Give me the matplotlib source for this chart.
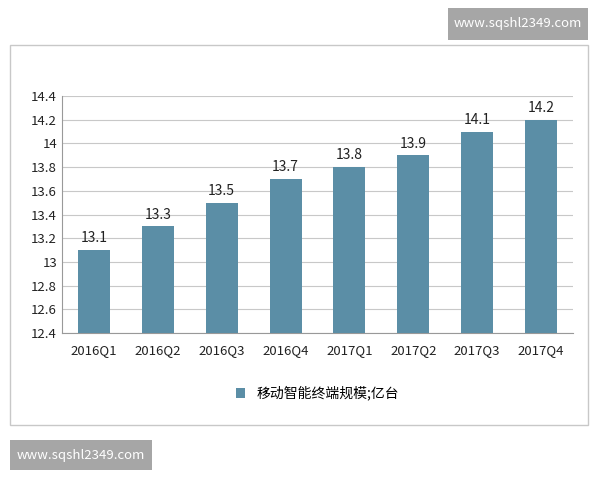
import matplotlib.pyplot as plt
from matplotlib.patches import Rectangle

plt.rcParams['font.family'] = ['Noto Sans CJK SC', 'DejaVu Sans']

quarters = ['2016Q1', '2016Q2', '2016Q3', '2016Q4', '2017Q1', '2017Q2', '2017Q3', '2017Q4']
values = [13.1, 13.3, 13.5, 13.7, 13.8, 13.9, 14.1, 14.2]
yticks = [12.4, 12.6, 12.8, 13, 13.2, 13.4, 13.6, 13.8, 14, 14.2, 14.4]
ytick_labels = ['12.4', '12.6', '12.8', '13', '13.2', '13.4', '13.6', '13.8', '14', '14.2', '14.4']

fig = plt.figure(figsize=(6, 4.8), dpi=100)
fig.patches.append(Rectangle((10/600, 1-425/480), 578/600, 380/480, transform=fig.transFigure,
                             fill=False, edgecolor='#c8c8c8', linewidth=1))

ax = fig.add_axes([62/600, 1-333/480, 511/600, 237/480])
bars = ax.bar(range(len(quarters)), values, width=0.5, color='#5b8ea6', label='移动智能终端规模;亿台', zorder=3)
for i, v in enumerate(values):
    ax.text(i, v + 0.04, f'{v}', ha='center', va='bottom', fontsize=10, color='#222222')
ax.set_ylim(12.4, 14.4)
ax.set_xlim(-0.5, len(quarters) - 0.5)
ax.set_yticks(yticks)
ax.set_yticklabels(ytick_labels)
ax.set_xticks(range(len(quarters)))
ax.set_xticklabels(quarters)
ax.tick_params(length=0, labelsize=9.5, colors='#222222')
ax.tick_params(axis='x', pad=8)
ax.grid(axis='y', color='#c8c8c8', linewidth=0.8, zorder=0)
for s in ['top', 'right']:
    ax.spines[s].set_visible(False)
ax.spines['left'].set_color('#999999')
ax.spines['bottom'].set_color('#999999')
ax.legend(loc='upper center', bbox_to_anchor=(0.5, -0.17), frameon=False, fontsize=10,
          handlelength=0.7, handleheight=0.7)

for (x0, y0, w, h) in [(448, 8, 140, 32), (10, 440, 142, 30)]:
    fig.patches.append(Rectangle((x0/600, 1-(y0+h)/480), w/600, h/480, transform=fig.transFigure,
                                 facecolor='#a6a6a6', edgecolor='none'))
    fig.text((x0 + w/2)/600, 1-(y0 + h/2)/480, 'www.sqshl2349.com', ha='center', va='center',
             color='white', fontsize=9.5)

fig.savefig('out.png', dpi=100)
